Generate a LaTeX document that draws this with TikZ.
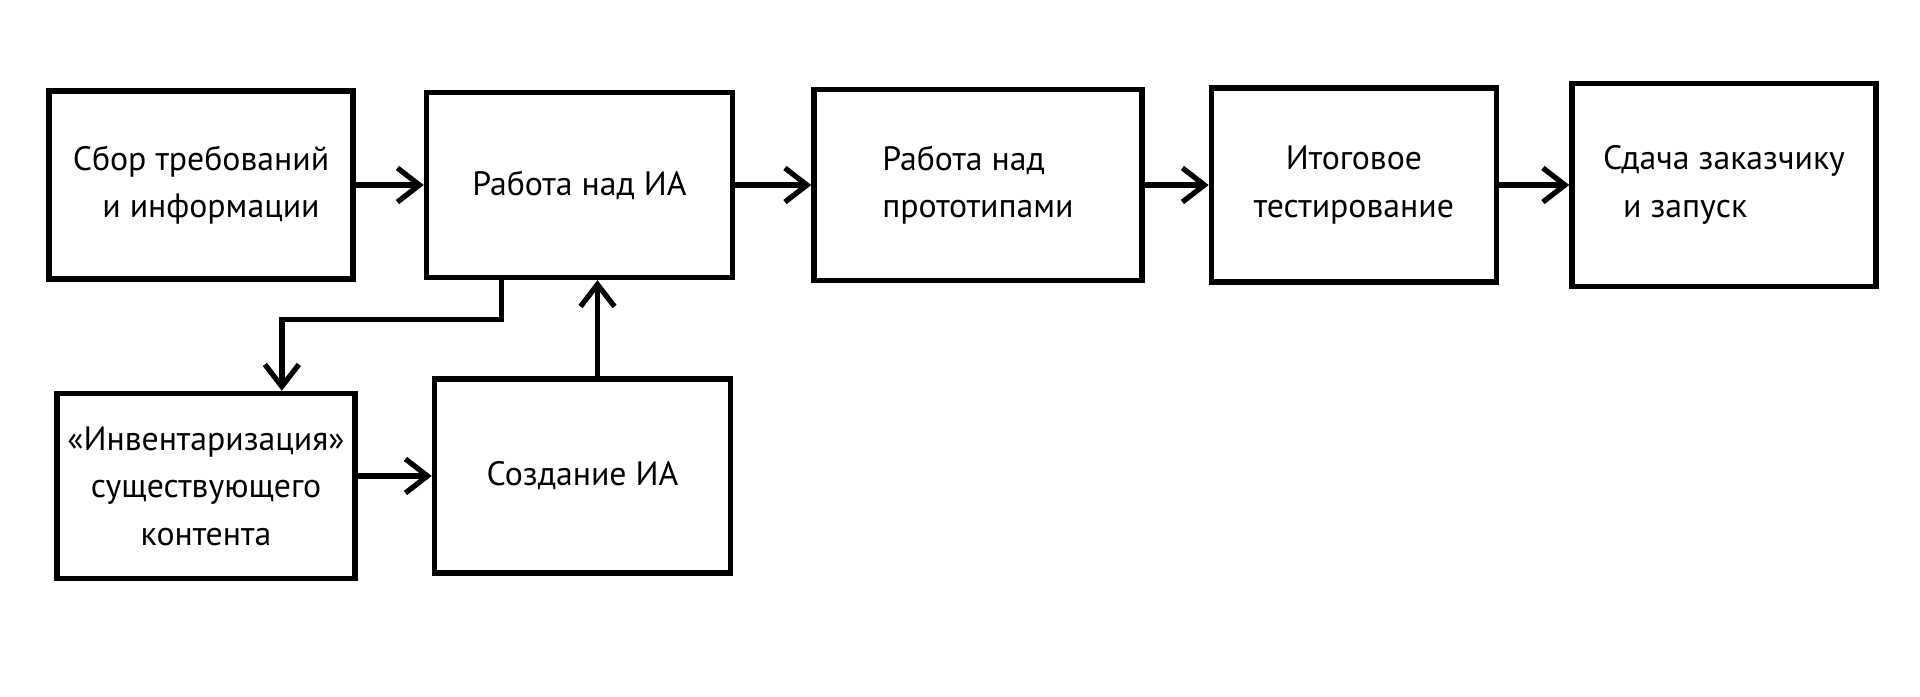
\documentclass[tikz,border=0pt]{standalone}
\usepackage{fontspec}
\setmainfont{PT Sans}
\usetikzlibrary{arrows.meta,positioning,calc}
\tikzset{
  stage/.style ={draw, line width=1.5pt, align=center, inner sep=2pt,
                 font=\fontsize{9.6}{13.5}\selectfont},
  stagel/.style={stage, align=left},
  flow/.style  ={-{Straight Barb[length=2.2mm,width=3.4mm]}, line width=1.5pt},
}
\begin{document}
\begin{tikzpicture}[x=0.01cm, y=-0.01cm]
\useasboundingbox (0,0) rectangle (1920,696);
\node[stage, minimum width=3.04cm, minimum height=1.88cm] (req) at (201,185)
  {Сбор требований\\\hspace*{2mm}и информации};
\node[stage, minimum width=3.06cm, minimum height=1.85cm, right=0.68cm of req] (ia)
  {Работа над ИА};
\node[stagel, minimum width=3.28cm, minimum height=1.91cm, right=0.76cm of ia] (proto)
  {Работа над\\прототипами};
\node[stage, minimum width=2.85cm, minimum height=1.94cm, right=0.64cm of proto] (test)
  {Итоговое\\тестирование};
\node[stagel, minimum width=3.04cm, minimum height=2.03cm, right=0.70cm of test] (launch)
  {Сдача заказчику\\\hspace*{2mm}и запуск};
\node[stage, minimum width=2.98cm, minimum height=1.85cm, below=1.09cm of req,
      xshift=0.05cm] (inv)
  {«Инвентаризация»\\существующего\\контента};
\node[stage, minimum width=2.96cm, minimum height=1.94cm, below=0.96cm of ia,
      xshift=0.03cm] (make)
  {Создание ИА};

\draw[flow] (req) -- (ia);
\draw[flow] (ia) -- (proto);
\draw[flow] (proto) -- (test);
\draw[flow] (test) -- (launch);
\draw[flow] ($(ia.south west)!0.25!(ia.south east)$) -- ++(0,39)
           -| ($(inv.north west)!0.75!(inv.north east)$);
\draw[flow] (inv.east |- make.west) -- (make.west);
\draw[flow] ([xshift=1.5mm]make.north) -- ([xshift=1.5mm]make.north |- ia.south);
\end{tikzpicture}
\end{document}
